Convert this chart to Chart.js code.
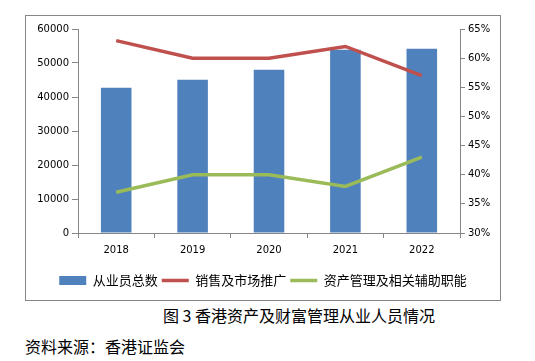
<!DOCTYPE html>
<html>
<head>
<meta charset="utf-8">
<script src="https://cdn.jsdelivr.net/npm/chart.js@4"></script>
<style>
  body { margin: 0; background: #fff; width: 535px; height: 361px; position: relative; overflow: hidden; }
  #frame { position: absolute; left: 25px; top: 15px; width: 474px; height: 284px; border: 1px solid #868686; }
  #caption { position: absolute; left: 163px; top: 303px; font: 16px 'Noto Sans CJK SC', sans-serif; color: #000; white-space: nowrap; }
  #source { position: absolute; left: 25px; top: 334px; font: 16px 'Noto Sans CJK SC', sans-serif; color: #000; white-space: nowrap; }
</style>
</head>
<body>
<div id="frame"><canvas id="staffChart" width="474" height="284"></canvas></div>
<div id="caption">图 3 香港资产及财富管理从业人员情况</div>
<div id="source">资料来源：香港证监会</div>
<script>
// data
const years = ['2018', '2019', '2020', '2021', '2022'];
const totalStaff = [42700, 45100, 48000, 53900, 54200];   // 从业员总数
const salesShare = [63, 60, 60, 62, 57];                   // 销售及市场推广 (%)
const assetMgmtShare = [37, 40, 40, 38, 43];               // 资产管理及相关辅助职能 (%)
const seriesNames = ['从业员总数', '销售及市场推广', '资产管理及相关辅助职能'];

const axisGrey = '#868686';

const ctx = document.getElementById('staffChart').getContext('2d');

new Chart(ctx, {
  type: 'bar',
  data: {
    labels: years,
    datasets: [{
      type: 'bar',
      label: seriesNames[0],
      data: totalStaff,
      backgroundColor: '#4F81BD',
      borderWidth: 0,
      barPercentage: 0.8,
      categoryPercentage: 0.5,
      pointStyle: 'rect',
      yAxisID: 'y',
      order: 1
    }, {
      type: 'line',
      label: seriesNames[1],
      data: salesShare,
      borderColor: '#C0504D',
      backgroundColor: '#C0504D',
      borderWidth: 3.5,
      pointRadius: 0,
      pointStyle: 'line',
      tension: 0,
      yAxisID: 'y1',
      order: 0
    }, {
      type: 'line',
      label: seriesNames[2],
      data: assetMgmtShare,
      borderColor: '#9BBB59',
      backgroundColor: '#9BBB59',
      borderWidth: 3.5,
      pointRadius: 0,
      pointStyle: 'line',
      tension: 0,
      yAxisID: 'y1',
      order: 0
    }]
  },
  options: {
    responsive: false,
    animation: false,
    devicePixelRatio: 1,
    layout: { padding: { top: 13, left: 0, right: 0, bottom: 3 } },
    plugins: {
      legend: {
        position: 'bottom',
        labels: {
          usePointStyle: true,
          pointStyleWidth: 27,
          boxHeight: 9,
          padding: 4,
          color: '#000',
          font: { family: "'Noto Sans CJK SC'", size: 13 },
          sort: (a, b) => a.datasetIndex - b.datasetIndex
        }
      },
      tooltip: { enabled: false }
    },
    scales: {
      x: {
        offset: true,
        grid: { offset: true, drawOnChartArea: false, tickLength: 5, color: axisGrey },
        border: { color: axisGrey },
        ticks: { color: '#000', padding: 6, font: { family: "'DejaVu Sans'", size: 10 } },
        afterFit: (scale) => { scale.height = 37; }
      },
      y: {
        position: 'left',
        min: 0,
        max: 60000,
        ticks: {
          stepSize: 10000,
          color: '#000',
          padding: 3,
          font: { family: "'DejaVu Sans'", size: 10 },
          callback: (v) => String(v)
        },
        grid: { drawOnChartArea: false, tickLength: 6, color: axisGrey },
        border: { color: axisGrey },
        afterFit: (scale) => { scale.width = 52; }
      },
      y1: {
        position: 'right',
        min: 30,
        max: 65,
        ticks: {
          stepSize: 5,
          color: '#000',
          padding: 3,
          font: { family: "'DejaVu Sans'", size: 10 },
          callback: (v) => v + '%'
        },
        grid: { drawOnChartArea: false, tickLength: 5, color: axisGrey },
        border: { color: axisGrey },
        afterFit: (scale) => { scale.width = 40; }
      }
    }
  }
});
</script>
</body>
</html>
